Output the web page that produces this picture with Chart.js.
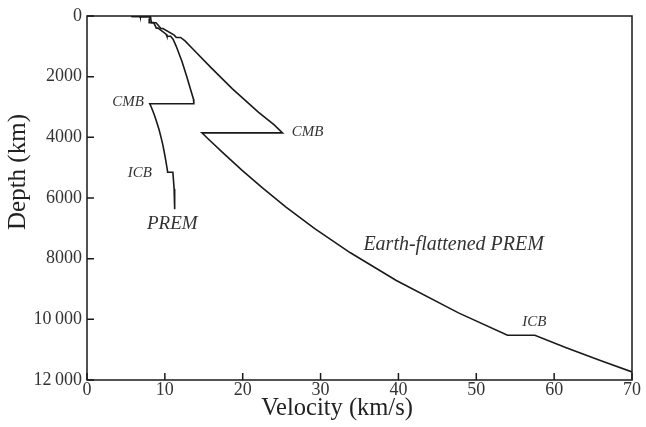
<!DOCTYPE html>
<html><head><meta charset="utf-8">
<script src="https://cdn.jsdelivr.net/npm/chart.js@4"></script>
<style>html,body{margin:0;padding:0;background:#fff}#wrap{width:646px;height:427px}</style>
</head><body><div id="wrap"><canvas id="c" width="646" height="427"></canvas></div>
<script>
// PREM P-wave velocity (km/s) versus depth (km)
const premDepth = [0,15,15,24.4,24.4,80,220,220,400,400,600,670,670,771,1000,1500,2000,2500,2741,2891,2891,3000,3250,3500,3750,4000,4250,4500,4750,5000,5150,5150,5700,6371];
const premVel   = [5.8,5.8,6.8,6.8,8.11,8.08,7.99,8.56,8.91,9.13,10.16,10.27,10.75,11.07,11.46,12.20,12.82,13.39,13.68,13.72,8.06,8.25,8.63,8.96,9.26,9.51,9.74,9.93,10.11,10.27,10.36,11.03,11.19,11.26];
// Earth-flattened PREM
const flatDepth = [0,15,15,24.5,24.5,80.5,223.9,223.9,413.1,413.1,630.2,707.9,707.9,821.9,1087.9,1710.4,2400.5,3174.4,3583.9,3852.7,3852.7,4055.5,4546.4,5078.3,5658.7,6297.4,7007.3,7806.3,8720.1,9787.2,10522.8,10522.8,10929.3,11360.6,11734];
const flatVel   = [5.8,5.81,6.82,6.83,8.14,8.18,8.28,8.87,9.50,9.75,11.21,11.47,12.02,12.59,13.60,15.96,18.68,22.04,24.01,25.11,14.76,15.58,17.61,19.89,22.50,25.56,29.25,33.83,39.73,47.71,54.01,57.52,61.47,65.93,70.0];
const xTicks = [0,10,20,30,40,50,60,70];
const yTicks = [0,2000,4000,6000,8000,10000,12000];
const yTickLabels = ['0','2000','4000','6000','8000','10\u2009000','12\u2009000'];
const annotations = [
  {text:'CMB', v:7.3, d:2840, align:'right', size:15},
  {text:'CMB', v:26.3, d:3830, align:'left', size:15},
  {text:'ICB', v:8.35, d:5180, align:'right', size:15},
  {text:'PREM', v:7.7, d:6860, align:'left', size:19},
  {text:'Earth-flattened PREM', v:35.5, d:7540, align:'left', size:20},
  {text:'ICB', v:55.9, d:10090, align:'left', size:15}
];

const SERIF = '"Liberation Serif","DejaVu Serif",serif';
const toPts = (vs, ds) => vs.map((v,i)=>({x:v, y:ds[i]}));

const framePlugin = {
  id:'frame',
  afterDraw(chart){
    const {ctx, chartArea:a, scales:{x,y}} = chart;
    ctx.save();
    ctx.strokeStyle = '#1a1a1a';
    ctx.lineWidth = 1.5;
    ctx.strokeRect(a.left, a.top, a.right-a.left, a.bottom-a.top);
    ctx.beginPath();
    xTicks.forEach(t=>{const px=x.getPixelForValue(t); ctx.moveTo(px,a.bottom); ctx.lineTo(px,a.bottom-7);});
    yTicks.forEach(t=>{const py=y.getPixelForValue(t); ctx.moveTo(a.left,py); ctx.lineTo(a.left+7,py);});
    ctx.stroke();
    // annotations
    ctx.fillStyle = '#333';
    ctx.textBaseline = 'middle';
    annotations.forEach(an=>{
      ctx.font = 'italic '+an.size+'px '+SERIF;
      ctx.textAlign = an.align;
      ctx.fillText(an.text, x.getPixelForValue(an.v), y.getPixelForValue(an.d));
    });
    // axis titles
    ctx.fillStyle = '#222';
    ctx.font = '24.5px '+SERIF;
    ctx.textAlign = 'center';
    ctx.fillText('Velocity (km/s)', 337, 409);
    ctx.font = '25px '+SERIF;
    ctx.translate(18, 172);
    ctx.rotate(-Math.PI/2);
    ctx.fillText('Depth (km)', 0, 0);
    ctx.restore();
  }
};

new Chart(document.getElementById('c'), {
  type:'scatter',
  data:{datasets:[
    {label:'PREM', data:toPts(premVel, premDepth)},
    {label:'Earth-flattened PREM', data:toPts(flatVel, flatDepth)}
  ].map(d=>Object.assign(d,{showLine:true, borderColor:'#1a1a1a', borderWidth:1.6, pointRadius:0, fill:false, tension:0}))},
  options:{
    responsive:false, animation:false, devicePixelRatio:1,
    layout:{padding:{top:16, right:14, left:0, bottom:0}},
    plugins:{legend:{display:false}, tooltip:{enabled:false}},
    scales:{
      x:{type:'linear', min:0, max:70,
        afterBuildTicks:s=>{s.ticks = xTicks.map(v=>({value:v}));},
        afterFit:s=>{s.height = 47;},
        grid:{display:false, tickLength:0}, border:{display:false},
        ticks:{font:{family:SERIF, size:18}, color:'#333', padding:-1, maxRotation:0}},
      y:{type:'linear', min:0, max:12000, reverse:true,
        afterBuildTicks:s=>{s.ticks = yTicks.map(v=>({value:v}));},
        afterFit:s=>{s.width = 87;},
        grid:{display:false, tickLength:0}, border:{display:false},
        ticks:{font:{family:SERIF, size:18}, color:'#333', padding:5,
          callback:(v)=>{const i=yTicks.indexOf(v); return i>=0?yTickLabels[i]:'';}}}
    }
  },
  plugins:[framePlugin]
});
</script></body></html>
